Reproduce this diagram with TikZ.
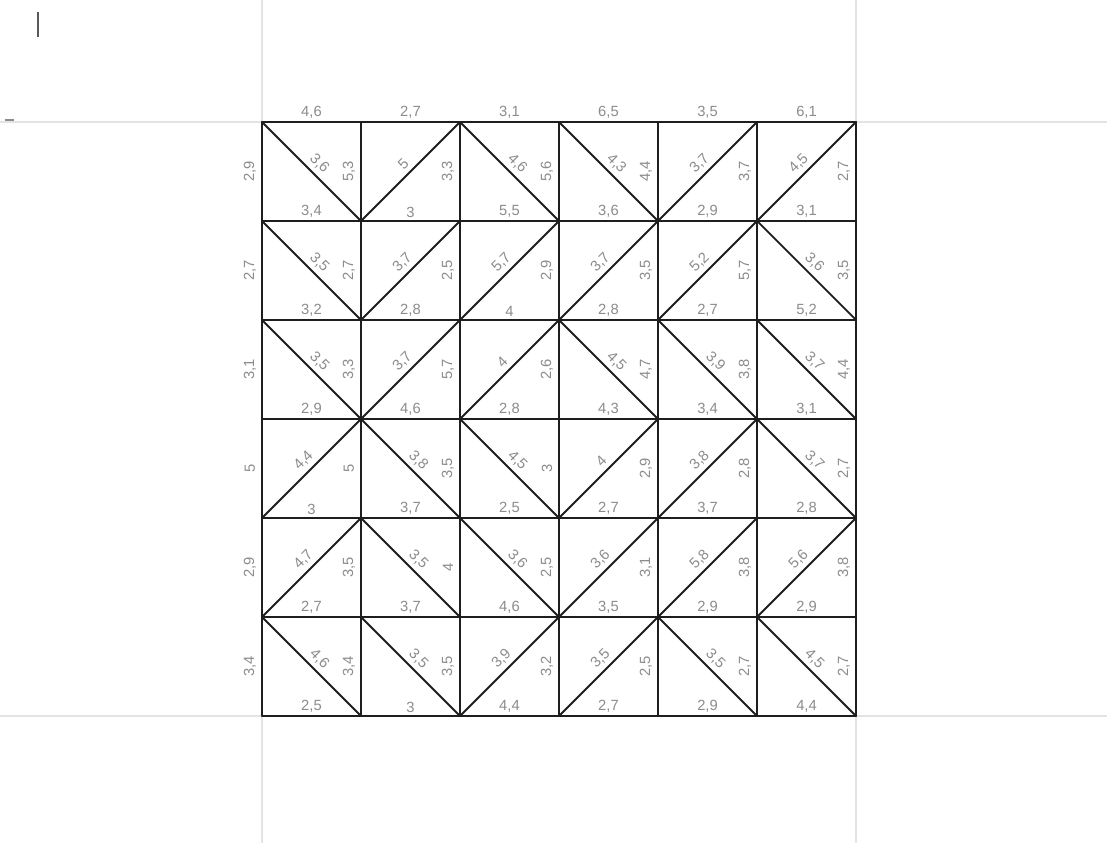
\documentclass[tikz,border=0pt]{standalone}
\usepackage{fontspec}
\setmainfont{Liberation Sans}
\usepackage{tikz}
\definecolor{pencil}{HTML}{8C8C8C}
\definecolor{ink}{HTML}{1E1E1E}
\definecolor{fold}{HTML}{E4E4E4}

\begin{document}
\begin{tikzpicture}[
        x=2.475cm, y=2.475cm,
        font=\fontsize{10.5}{12}\selectfont,
        gridline/.style={draw=ink, line width=1.3pt, line cap=round},
        diag/.style={draw=ink, line width=1.3pt, line cap=round},
        foldline/.style={draw=fold, line width=0.8pt},
        hlabel/.style={text=pencil, above, inner sep=2.5pt},
        vlabel/.style={text=pencil, xshift=-0.3cm, rotate=90, inner sep=0pt},
        dlabel/.style={text=pencil, sloped, above, inner sep=3pt}
    ]
        % page and paper folds
        \coordinate (bb-sw) at (-2.646,-1.283);
        \coordinate (bb-ne) at (8.535,7.232);
        \fill[white] (bb-sw) rectangle (bb-ne);
        \useasboundingbox (bb-sw) rectangle (bb-ne);

        \foreach \i in {0,...,6}
            \foreach \j in {0,...,6}
                \coordinate (g-\i-\j) at (\i,\j);

        \draw[foldline] (g-0-6 -| bb-sw) -- (g-6-6 -| bb-ne);
        \draw[foldline] (g-0-0 -| bb-sw) -- (g-6-0 -| bb-ne);
        \draw[foldline] (g-0-0 |- bb-sw) -- (g-0-6 |- bb-ne);
        \draw[foldline] (g-6-0 |- bb-sw) -- (g-6-6 |- bb-ne);
        \coordinate (mark-a) at (-2.263,7.111);
        \coordinate (mark-b) at (-2.263,6.859);
        \draw[draw=black!65, line width=1pt] (mark-a) -- (mark-b);
        \coordinate (tick-a) at (-2.60,6.02);
        \coordinate (tick-b) at (-2.50,6.02);
        \draw[draw=black!45, line width=0.8pt] (tick-a) -- (tick-b);

        % grid
        \foreach \i in {0,...,6} {
            \draw[gridline] (g-\i-0) -- (g-\i-6);
            \draw[gridline] (g-0-\i) -- (g-6-\i);
        }

        % row/column/slope(1 = /, -1 = \)/diagonal/right/bottom
        \foreach \r/\c/\s/\dl/\rl/\bl in {
            0/0/-1/{3,6}/{5,3}/{3,4}, 0/1/1/{5}/{3,3}/{3}, 0/2/-1/{4,6}/{5,6}/{5,5},
            0/3/-1/{4,3}/{4,4}/{3,6}, 0/4/1/{3,7}/{3,7}/{2,9}, 0/5/1/{4,5}/{2,7}/{3,1},
            1/0/-1/{3,5}/{2,7}/{3,2}, 1/1/1/{3,7}/{2,5}/{2,8}, 1/2/1/{5,7}/{2,9}/{4},
            1/3/1/{3,7}/{3,5}/{2,8}, 1/4/1/{5,2}/{5,7}/{2,7}, 1/5/-1/{3,6}/{3,5}/{5,2},
            2/0/-1/{3,5}/{3,3}/{2,9}, 2/1/1/{3,7}/{5,7}/{4,6}, 2/2/1/{4}/{2,6}/{2,8},
            2/3/-1/{4,5}/{4,7}/{4,3}, 2/4/-1/{3,9}/{3,8}/{3,4}, 2/5/-1/{3,7}/{4,4}/{3,1},
            3/0/1/{4,4}/{5}/{3}, 3/1/-1/{3,8}/{3,5}/{3,7}, 3/2/-1/{4,5}/{3}/{2,5},
            3/3/1/{4}/{2,9}/{2,7}, 3/4/1/{3,8}/{2,8}/{3,7}, 3/5/-1/{3,7}/{2,7}/{2,8},
            4/0/1/{4,7}/{3,5}/{2,7}, 4/1/-1/{3,5}/{4}/{3,7}, 4/2/-1/{3,6}/{2,5}/{4,6},
            4/3/1/{3,6}/{3,1}/{3,5}, 4/4/1/{5,8}/{3,8}/{2,9}, 4/5/1/{5,6}/{3,8}/{2,9},
            5/0/-1/{4,6}/{3,4}/{2,5}, 5/1/-1/{3,5}/{3,5}/{3}, 5/2/1/{3,9}/{3,2}/{4,4},
            5/3/1/{3,5}/{2,5}/{2,7}, 5/4/-1/{3,5}/{2,7}/{2,9}, 5/5/-1/{4,5}/{2,7}/{4,4}
        } {
            \pgfmathtruncatemacro{\cc}{\c+1}
            \pgfmathtruncatemacro{\yt}{6-\r}
            \pgfmathtruncatemacro{\yb}{5-\r}
            \pgfmathtruncatemacro{\ya}{5-\r+(1-\s)/2}
            \pgfmathtruncatemacro{\yz}{5-\r+(1+\s)/2}
            \draw[diag] (g-\c-\ya) -- node[dlabel] (d-\r-\c) {\dl} (g-\cc-\yz);
            \path (g-\cc-\yt) -- node[vlabel] (v-\r-\c) {\rl} (g-\cc-\yb);
            \path (g-\c-\yb) -- node[hlabel] (h-\r-\c) {\bl} (g-\cc-\yb);
        }

        % outer labels
        \foreach \c/\tl in {0/{4,6}, 1/{2,7}, 2/{3,1}, 3/{6,5}, 4/{3,5}, 5/{6,1}} {
            \pgfmathtruncatemacro{\cc}{\c+1}
            \path (g-\c-6) -- node[hlabel] (t-\c) {\tl} (g-\cc-6);
        }
        \foreach \r/\ll in {0/{2,9}, 1/{2,7}, 2/{3,1}, 3/{5}, 4/{2,9}, 5/{3,4}} {
            \pgfmathtruncatemacro{\yt}{6-\r}
            \pgfmathtruncatemacro{\yb}{5-\r}
            \path (g-0-\yt) -- node[vlabel] (l-\r) {\ll} (g-0-\yb);
        }
    \end{tikzpicture}
\end{document}
